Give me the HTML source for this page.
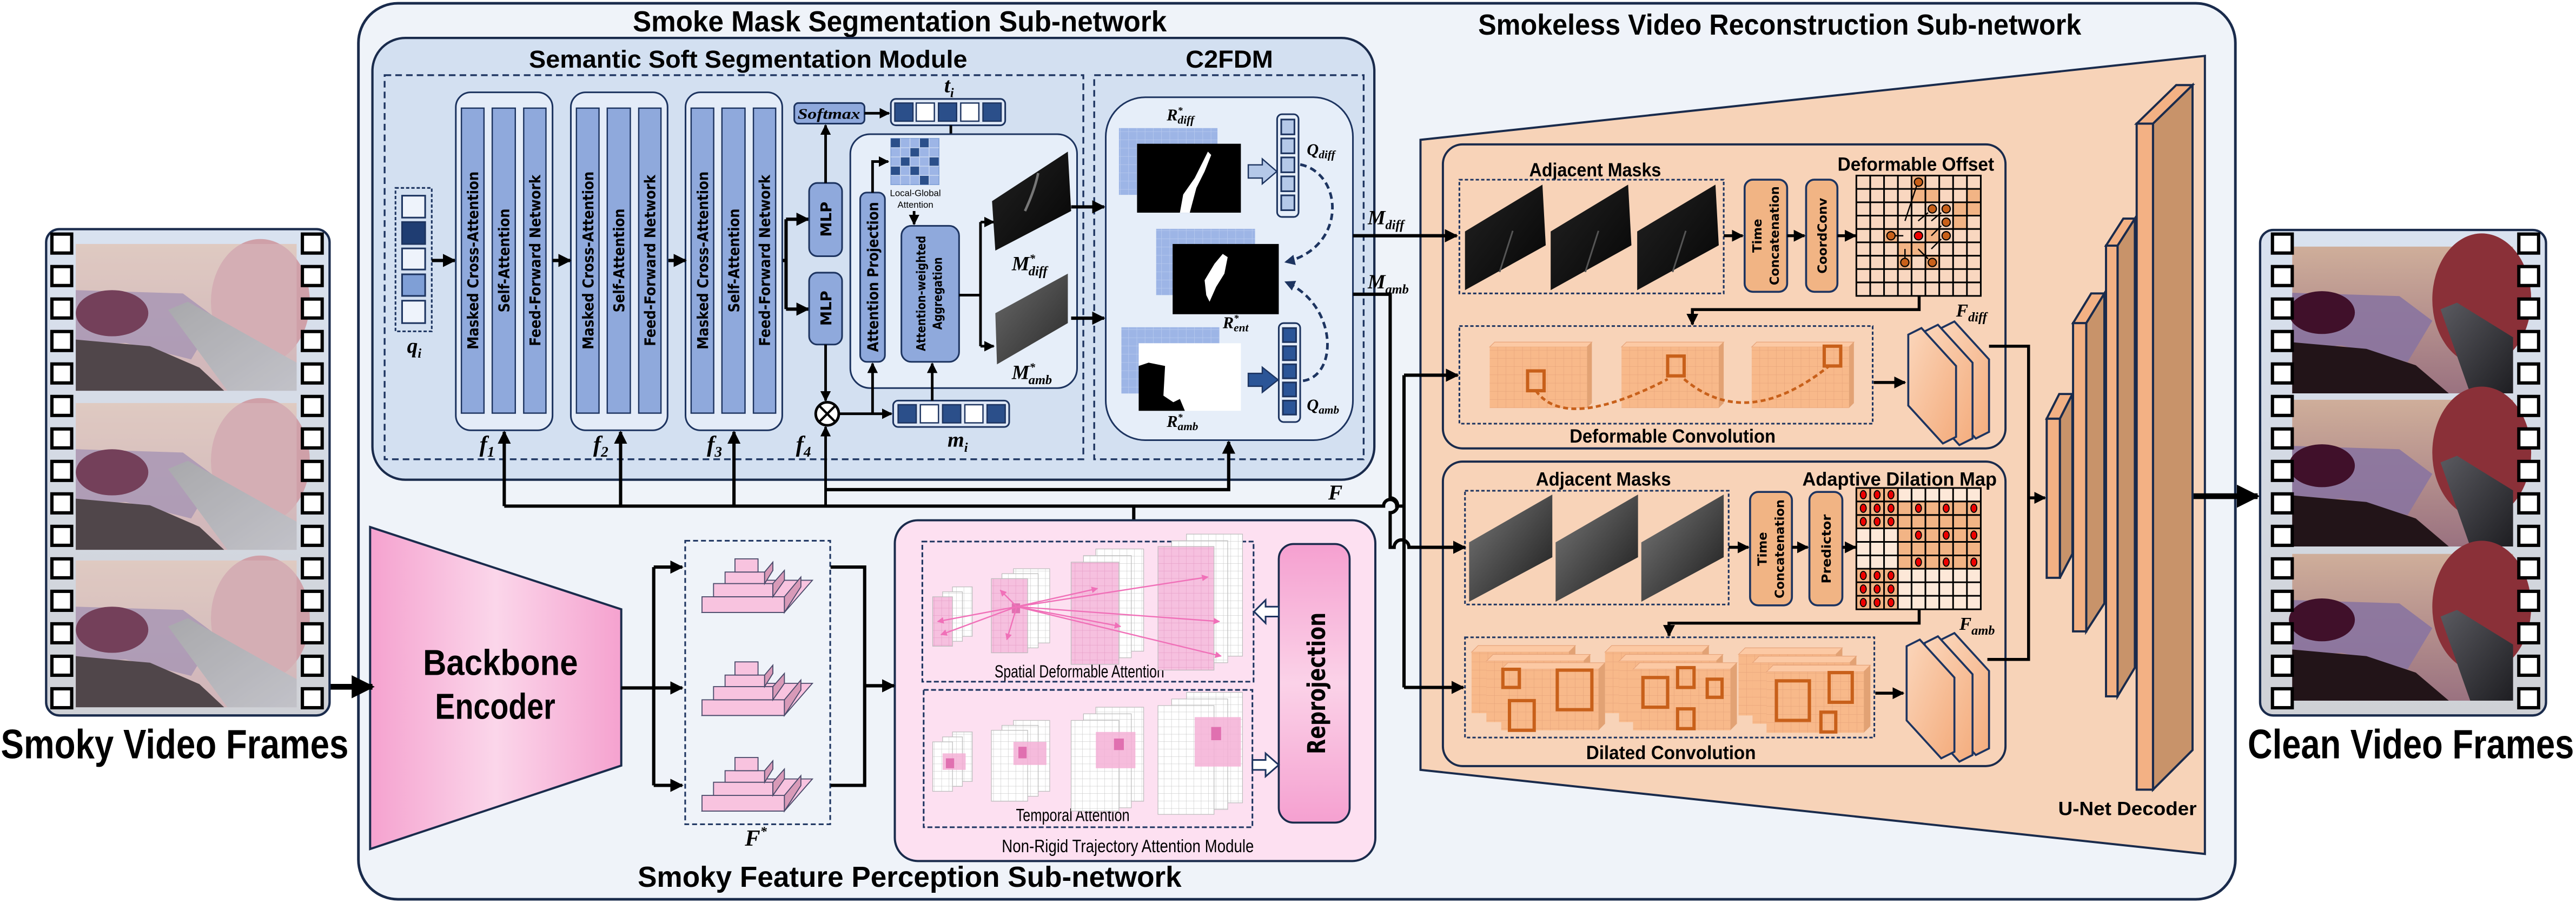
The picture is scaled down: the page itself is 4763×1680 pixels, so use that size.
<!DOCTYPE html>
<html><head><meta charset="utf-8"><style>html,body{margin:0;padding:0;background:#fff}svg{display:block}</style></head><body>
<svg xmlns="http://www.w3.org/2000/svg" xmlns:xlink="http://www.w3.org/1999/xlink" width="4763" height="1680" viewBox="0 0 1563.2 551.4" preserveAspectRatio="none">
<defs>
<linearGradient id="bb" x1="0" x2="1"><stop offset="0" stop-color="#f5a2cf"/><stop offset="0.5" stop-color="#fbd6ea"/><stop offset="1" stop-color="#f5a2cf"/></linearGradient>
<linearGradient id="rp" x1="0" y1="0" x2="0" y2="1"><stop offset="0" stop-color="#f5a0d0"/><stop offset="0.5" stop-color="#fbd2e8"/><stop offset="1" stop-color="#f5a0d0"/></linearGradient>
<linearGradient id="film" x1="0" y1="0" x2="0" y2="1"><stop offset="0" stop-color="#d9e2f0"/><stop offset="1" stop-color="#cfd1d6"/></linearGradient>
<linearGradient id="pt" x1="0" y1="0" x2="0" y2="1"><stop offset="0" stop-color="#dcc2b8"/><stop offset="1" stop-color="#c9a8ae"/></linearGradient>
<linearGradient id="ptc" x1="0" y1="0" x2="0" y2="1"><stop offset="0" stop-color="#cfae9a"/><stop offset="1" stop-color="#9a7280"/></linearGradient>
<linearGradient id="ins" x1="0" y1="0" x2="1" y2="1"><stop offset="0" stop-color="#9a9a9e"/><stop offset="1" stop-color="#b8b8c0"/></linearGradient>
<linearGradient id="insc" x1="0" y1="0" x2="1" y2="1"><stop offset="0" stop-color="#5a5a60"/><stop offset="1" stop-color="#1e1e22"/></linearGradient>
<linearGradient id="gry" x1="0" y1="0" x2="1" y2="1"><stop offset="0" stop-color="#6a6a6a"/><stop offset="1" stop-color="#2a2a2a"/></linearGradient>
<linearGradient id="gry2" x1="0" y1="0" x2="1" y2="1"><stop offset="0" stop-color="#7a7a7a"/><stop offset="1" stop-color="#1a1a1a"/></linearGradient>
<linearGradient id="blk" x1="0" y1="0" x2="1" y2="1"><stop offset="0" stop-color="#222"/><stop offset="1" stop-color="#050505"/></linearGradient>
<linearGradient id="fpl" x1="0" y1="0" x2="1" y2="1"><stop offset="0" stop-color="#fbd6bb"/><stop offset="1" stop-color="#f4ad7e"/></linearGradient>
<pattern id="gb" width="5" height="5" patternUnits="userSpaceOnUse"><rect width="5" height="5" fill="#9db5e6"/><path d="M5 0V5H0" fill="none" stroke="#b9cbef" stroke-width="0.5"/></pattern>
<pattern id="go" width="5" height="5" patternUnits="userSpaceOnUse"><rect width="5" height="5" fill="#f8b98a"/><path d="M5 0V5H0" fill="none" stroke="#e6a37a" stroke-width="0.4"/></pattern>
<pattern id="gw" width="4.5" height="4.5" patternUnits="userSpaceOnUse"><rect width="4.5" height="4.5" fill="#fff"/><path d="M4.5 0V4.5H0" fill="none" stroke="#c8c8c8" stroke-width="0.4"/></pattern>
<pattern id="gp" width="4.5" height="4.5" patternUnits="userSpaceOnUse"><rect width="4.5" height="4.5" fill="#f6c0df"/><path d="M4.5 0V4.5H0" fill="none" stroke="#e59cc6" stroke-width="0.4"/></pattern>
<marker id="ah" viewBox="0 0 10 10" refX="9" refY="5" markerWidth="4" markerHeight="4" orient="auto-start-reverse"><path d="M0 0L10 5L0 10z" fill="#000"/></marker>
<marker id="ahn" viewBox="0 0 10 10" refX="9" refY="5" markerWidth="4" markerHeight="4" orient="auto"><path d="M0 0L10 5L0 10z" fill="#1d3460"/></marker>
<marker id="ahp" viewBox="0 0 10 10" refX="9" refY="5" markerWidth="5" markerHeight="5" orient="auto"><path d="M0 0L10 5L0 10z" fill="#f070b8"/></marker>
<g id="photoS"><rect width="134" height="89" fill="url(#pt)"/>
<ellipse cx="112" cy="35" rx="30" ry="38" fill="#cfa0a8"/>
<polygon points="0,28 65,30 85,45 70,70 30,60 0,62" fill="#9a84a8" opacity="0.85"/>
<ellipse cx="22" cy="42" rx="22" ry="14" fill="#5a1a3a"/>
<polygon points="0,58 45,62 75,75 90,89 0,89" fill="#2e2226"/>
<polygon points="56,40 68,35 134,72 134,89 92,89" fill="url(#ins)"/>
<rect width="134" height="89" fill="#eee" opacity="0.18"/></g>
<g id="photoC"><rect width="134" height="89" fill="url(#ptc)"/>
<ellipse cx="115" cy="32" rx="30" ry="40" fill="#8a3038"/>
<polygon points="0,28 65,30 85,45 70,70 30,60 0,62" fill="#8a74a0" opacity="0.9"/>
<ellipse cx="18" cy="40" rx="20" ry="13" fill="#40102a"/>
<polygon points="0,58 45,62 75,72 95,89 0,89" fill="#221418"/>
<polygon points="90,38 100,34 134,55 134,89 108,89" fill="url(#insc)"/></g>
<g id="holes"><rect x="0" y="0" width="12" height="11.5" fill="#fff" stroke="#000" stroke-width="2"/></g>
<g id="hl"><use href="#holes" x="0" y="0"/><use href="#holes" y="19.7"/><use href="#holes" y="39.4"/><use href="#holes" y="59.1"/><use href="#holes" y="78.8"/><use href="#holes" y="98.5"/><use href="#holes" y="118.2"/><use href="#holes" y="137.9"/><use href="#holes" y="157.6"/><use href="#holes" y="177.3"/><use href="#holes" y="197"/><use href="#holes" y="216.7"/><use href="#holes" y="236.4"/><use href="#holes" y="256.1"/><use href="#holes" y="275.8"/></g>
<g id="cubeO"><path d="M0 4L4 0H63L59 4Z" fill="#fcc9a4" stroke="#e6a37a" stroke-width="0.4"/><path d="M59 4L63 0V37L59 41Z" fill="#e2a274"/><rect x="0" y="4" width="59" height="37" fill="url(#go)"/></g>
<g id="cubeS"><path d="M0 3L3 0H62L59 3Z" fill="#fcc9a4" stroke="#e6a37a" stroke-width="0.4"/><path d="M59 3L62 0V37L59 40Z" fill="#e2a274"/><rect x="0" y="3" width="59" height="37" fill="url(#go)"/></g>
</defs>

<!-- Outer frame -->
<rect x="217.5" y="2" width="1139" height="543.5" rx="24" fill="#eff3f9" stroke="#1a2b4c" stroke-width="1.6"/>
<text x="546" y="19" font-family="Liberation Sans Narrow,Liberation Sans,sans-serif" font-weight="bold" font-size="17.5" text-anchor="middle" textLength="324" lengthAdjust="spacingAndGlyphs">Smoke Mask Segmentation Sub-network</text>
<text x="1080" y="21" font-family="Liberation Sans Narrow,Liberation Sans,sans-serif" font-weight="bold" font-size="17.5" text-anchor="middle" textLength="366" lengthAdjust="spacingAndGlyphs">Smokeless Video Reconstruction Sub-network</text>
<text x="552" y="538" font-family="Liberation Sans Narrow,Liberation Sans,sans-serif" font-weight="bold" font-size="17.5" text-anchor="middle" textLength="330" lengthAdjust="spacingAndGlyphs">Smoky Feature Perception Sub-network</text>

<!-- Smoke Mask segmentation inner -->
<rect x="226" y="23" width="608" height="268" rx="20" fill="#d3e0f1" stroke="#1a2b4c" stroke-width="1.4"/>
<text x="454" y="41" font-family="Liberation Sans Narrow,Liberation Sans,sans-serif" font-weight="bold" font-size="15" text-anchor="middle" textLength="266" lengthAdjust="spacingAndGlyphs">Semantic Soft Segmentation Module</text>
<text x="746" y="41" font-family="Liberation Sans Narrow,Liberation Sans,sans-serif" font-weight="bold" font-size="15" text-anchor="middle" textLength="53" lengthAdjust="spacingAndGlyphs">C2FDM</text>
<rect x="233.4" y="45.6" width="424" height="233" fill="none" stroke="#1d3460" stroke-width="1.1" stroke-dasharray="4,2.5"/>
<rect x="664" y="45.6" width="163.5" height="233" fill="none" stroke="#1d3460" stroke-width="1.1" stroke-dasharray="4,2.5"/>

<!-- q_i -->
<rect x="240" y="114" width="22" height="87" fill="none" stroke="#1d3460" stroke-width="1" stroke-dasharray="2,1.2"/>
<g stroke="#1d3460" stroke-width="1">
<rect x="244" y="118.7" width="14" height="13.3" fill="#eef3fb"/><rect x="244" y="134.7" width="14" height="13.3" fill="#1f3d72"/><rect x="244" y="150.7" width="14" height="12.8" fill="#eef3fb"/><rect x="244" y="166.4" width="14" height="13.1" fill="#7f9fd6"/><rect x="244" y="182.4" width="14" height="13.6" fill="#eef3fb"/></g>
<text x="247" y="214" font-family="Liberation Serif,serif" font-style="italic" font-weight="bold" font-size="13">q<tspan font-size="8" dy="3">i</tspan></text>
<line x1="262" y1="158" x2="276" y2="158" stroke="#000" stroke-width="2" marker-end="url(#ah)"/>

<!-- Transformer blocks -->
<g font-family="DejaVu Sans,sans-serif" font-weight="bold" font-size="9" text-anchor="middle">
<g id="blk1">
<rect x="276.6" y="56" width="58.7" height="205" rx="9" fill="#e4ecf8" stroke="#1d3460" stroke-width="1"/>
<rect x="280" y="65.6" width="13.7" height="185" fill="#8fa9dc" stroke="#1d3460" stroke-width="0.8"/>
<rect x="298.7" y="65.6" width="14" height="185" fill="#8fa9dc" stroke="#1d3460" stroke-width="0.8"/>
<rect x="317.8" y="65.6" width="13.5" height="185" fill="#8fa9dc" stroke="#1d3460" stroke-width="0.8"/>
<text transform="translate(290.2,158) rotate(-90)" textLength="108" lengthAdjust="spacingAndGlyphs">Masked Cross-Attention</text>
<text transform="translate(309,158) rotate(-90)" textLength="63" lengthAdjust="spacingAndGlyphs">Self-Attention</text>
<text transform="translate(327.8,158) rotate(-90)" textLength="104" lengthAdjust="spacingAndGlyphs">Feed-Forward Network</text>
</g>
<use href="#blk1" x="69.8"/>
<use href="#blk1" x="139.4"/>
</g>
<g stroke="#000" stroke-width="2" fill="none">
<line x1="335.3" y1="158" x2="346" y2="158" marker-end="url(#ah)"/>
<line x1="405.6" y1="158" x2="416" y2="158" marker-end="url(#ah)"/>
<path d="M475 158H477M477 133V187.5"/>
<line x1="477" y1="133" x2="490.5" y2="133" marker-end="url(#ah)"/>
<line x1="477" y1="187.5" x2="490.5" y2="187.5" marker-end="url(#ah)"/>
</g>
<g font-family="Liberation Serif,serif" font-style="italic" font-weight="bold" font-size="14">
<text x="291" y="274">f<tspan font-size="9" dy="3">1</tspan></text>
<text x="360" y="274">f<tspan font-size="9" dy="3">2</tspan></text>
<text x="429" y="274">f<tspan font-size="9" dy="3">3</tspan></text>
<text x="483" y="274">f<tspan font-size="9" dy="3">4</tspan></text>
</g>

<!-- MLPs, softmax, t_i -->
<g stroke="#1d3460" stroke-width="1" fill="#8fa9dc">
<rect x="491" y="111" width="20" height="44.4" rx="5"/>
<rect x="491" y="165.4" width="20" height="43.6" rx="5"/>
<rect x="482" y="62.5" width="42.6" height="12.5" rx="2.5"/>
<rect x="540.6" y="60" width="69.4" height="16" rx="3" fill="#dfe8f6"/>
</g>
<g font-family="DejaVu Sans,sans-serif" font-weight="bold" font-size="9" text-anchor="middle">
<text transform="translate(504.5,133) rotate(-90)">MLP</text>
<text transform="translate(504.5,187) rotate(-90)">MLP</text>
</g>
<text x="503" y="72" font-family="Liberation Serif,serif" font-style="italic" font-weight="bold" font-size="9" text-anchor="middle" textLength="38" lengthAdjust="spacingAndGlyphs">Softmax</text>
<g stroke="#1d3460" stroke-width="0.8">
<rect x="543" y="62.5" width="11" height="11" fill="#2b4f8a"/><rect x="556" y="62.5" width="11" height="11" fill="#fff"/><rect x="569.5" y="62.5" width="11" height="11" fill="#2b4f8a"/><rect x="583" y="62.5" width="11" height="11" fill="#fff"/><rect x="596.5" y="62.5" width="11" height="11" fill="#2b4f8a"/></g>
<text x="573" y="56" font-family="Liberation Serif,serif" font-style="italic" font-weight="bold" font-size="13">t<tspan font-size="8" dy="3">i</tspan></text>
<g stroke="#000" stroke-width="1.6" fill="none">
<line x1="501" y1="111" x2="501" y2="76" marker-end="url(#ah)"/>
<line x1="524.6" y1="68.7" x2="539.5" y2="68.7" marker-end="url(#ah)"/>
<line x1="577" y1="76" x2="577" y2="136" marker-end="url(#ah)"/>
<line x1="501" y1="209" x2="501" y2="243" marker-end="url(#ah)"/>
<line x1="501" y1="307" x2="501" y2="259" marker-end="url(#ah)"/>
</g>

<!-- attention inner box -->
<rect x="516" y="81.4" width="137.6" height="154" rx="12" fill="#e6eef9" stroke="#1d3460" stroke-width="1"/>
<rect x="540.6" y="84" width="29.2" height="28" fill="#9db5e6" stroke="#7f9fd6" stroke-width="0.5"/>
<g fill="#2b4f8a"><rect x="540.6" y="84" width="5.8" height="5.6"/><rect x="552.3" y="89.6" width="5.8" height="5.6"/><rect x="558" y="84" width="5.8" height="5.6"/><rect x="546.4" y="95.2" width="5.8" height="5.6"/><rect x="563.8" y="95.2" width="5.8" height="5.6"/><rect x="540.6" y="100.8" width="5.8" height="5.6"/><rect x="558" y="106.4" width="5.8" height="5.6"/><rect x="552.3" y="100.8" width="5.8" height="5.6"/></g>
<path d="M540.6 89.6H569.8M540.6 95.2H569.8M540.6 100.8H569.8M540.6 106.4H569.8M546.4 84V112M552.2 84V112M558 84V112M563.8 84V112" stroke="#c8d6f0" stroke-width="0.5"/>
<text x="555.5" y="119" font-family="Liberation Sans Narrow,sans-serif" font-size="5.5" text-anchor="middle">Local-Global</text>
<text x="555.5" y="126" font-family="Liberation Sans Narrow,sans-serif" font-size="5.5" text-anchor="middle">Attention</text>
<rect x="522" y="116.8" width="15" height="102.7" rx="4" fill="#8fa9dc" stroke="#1d3460" stroke-width="1"/>
<rect x="547" y="137" width="35" height="82.5" rx="6" fill="#8fa9dc" stroke="#1d3460" stroke-width="1"/>
<g font-family="DejaVu Sans,sans-serif" font-weight="bold" font-size="9" text-anchor="middle">
<text transform="translate(532.8,168) rotate(-90)" textLength="91" lengthAdjust="spacingAndGlyphs">Attention Projection</text>
<text transform="translate(561.5,178) rotate(-90)" font-size="7.5" textLength="70" lengthAdjust="spacingAndGlyphs">Attention-weighted</text>
<text transform="translate(571.5,178) rotate(-90)" font-size="7.5" textLength="44" lengthAdjust="spacingAndGlyphs">Aggregation</text>
</g>
<g stroke="#000" stroke-width="1.6" fill="none">
<path d="M529.5 116.8V98H539" marker-end="url(#ah)"/>
<line x1="554.7" y1="128" x2="554.7" y2="136" marker-end="url(#ah)"/>
<path d="M582 179H595M595 134.7V210"/>
<line x1="595" y1="134.7" x2="603" y2="134.7" marker-end="url(#ah)"/>
<line x1="595" y1="210" x2="603" y2="210" marker-end="url(#ah)"/>
</g>
<polygon points="602,122 648,92 650,128 604,152" fill="url(#blk)"/>
<path d="M622 128Q628 115 630 105" stroke="#777" stroke-width="1.5" fill="none"/>
<polygon points="604,190 648,166 648,196 605,221" fill="url(#gry)"/>
<text x="614" y="164" font-family="Liberation Serif,serif" font-style="italic" font-weight="bold" font-size="12">M<tspan font-size="7" dy="-5">*</tspan><tspan font-size="8" dx="-4" dy="8">diff</tspan></text>
<text x="614" y="230" font-family="Liberation Serif,serif" font-style="italic" font-weight="bold" font-size="12">M<tspan font-size="7" dy="-5">*</tspan><tspan font-size="8" dx="-4" dy="8">amb</tspan></text>
<g stroke="#000" stroke-width="2" fill="none">
<line x1="650" y1="125.5" x2="670" y2="125.5" marker-end="url(#ah)"/>
<line x1="650" y1="193" x2="670" y2="193" marker-end="url(#ah)"/>
</g>
<!-- multiply + m_i -->
<circle cx="502" cy="251" r="7" fill="#fff" stroke="#000" stroke-width="1.6"/>
<path d="M497.5 246.5L506.5 255.5M506.5 246.5L497.5 255.5" stroke="#000" stroke-width="1.4"/>
<rect x="542" y="243" width="70.4" height="16" rx="3" fill="#dfe8f6" stroke="#1d3460" stroke-width="1"/>
<g stroke="#1d3460" stroke-width="0.8"><rect x="545" y="245.5" width="11" height="11" fill="#2b4f8a"/><rect x="558.5" y="245.5" width="11" height="11" fill="#fff"/><rect x="572" y="245.5" width="11" height="11" fill="#2b4f8a"/><rect x="585.5" y="245.5" width="11" height="11" fill="#fff"/><rect x="599" y="245.5" width="11" height="11" fill="#2b4f8a"/></g>
<text x="575" y="271" font-family="Liberation Serif,serif" font-style="italic" font-weight="bold" font-size="13">m<tspan font-size="8" dy="3">i</tspan></text>
<g stroke="#000" stroke-width="1.6" fill="none">
<line x1="509" y1="251" x2="541" y2="251" marker-end="url(#ah)"/>
<line x1="529.5" y1="251" x2="529.5" y2="220.5" marker-end="url(#ah)"/>
<line x1="565.7" y1="243" x2="565.7" y2="220.5" marker-end="url(#ah)"/>
</g>

<!-- C2FDM inner -->
<rect x="671" y="59" width="150" height="208" rx="24" fill="#e6eef9" stroke="#1d3460" stroke-width="1"/>
<rect x="679" y="77.7" width="59.8" height="40.5" fill="url(#gb)"/>
<rect x="690" y="87.2" width="63" height="41.8" fill="#000"/>
<path d="M716 129L718 118L725 108L730 98L733 92L735 94L731 104L726 114L722 129Z" fill="#fff"/>
<rect x="701.6" y="138.8" width="60" height="40.2" fill="url(#gb)"/>
<rect x="711.6" y="148" width="64.4" height="42.6" fill="#000"/>
<path d="M732 179L731 170L737 160L742 154L745 156L743 166L738 174L734 183Z" fill="#fff"/>
<rect x="680.5" y="198.5" width="59.5" height="40.2" fill="url(#gb)"/>
<rect x="691" y="208.2" width="62" height="41" fill="#fff"/>
<path d="M691 222L697 220L707 222L706 240L712 244L716 242L719 249.2H691Z" fill="#000"/>
<polygon points="757.5,100 766,100 766,96.4 774.8,104 766,111.5 766,108 757.5,108" fill="#b4c8e8" stroke="#1d3460" stroke-width="0.8"/>
<polygon points="757.5,226.5 766,226.5 766,222.8 775.6,230.4 766,238 766,234.3 757.5,234.3" fill="#2b5597" stroke="#1d3460" stroke-width="0.8"/>
<rect x="775" y="69.3" width="13" height="62.3" rx="3" fill="#e6eef9" stroke="#1d3460" stroke-width="1"/>
<g fill="#b4c8e8" stroke="#1d3460" stroke-width="1"><rect x="777.5" y="72.5" width="8" height="9"/><rect x="777.5" y="84" width="8" height="9"/><rect x="777.5" y="95.5" width="8" height="9"/><rect x="777.5" y="107" width="8" height="9"/><rect x="777.5" y="118.5" width="8" height="9"/></g>
<rect x="776" y="196" width="13" height="60" rx="3" fill="#e6eef9" stroke="#1d3460" stroke-width="1"/>
<g fill="#2b5597" stroke="#1d3460" stroke-width="1"><rect x="778.5" y="199" width="8" height="8.5"/><rect x="778.5" y="210" width="8" height="8.5"/><rect x="778.5" y="221" width="8" height="8.5"/><rect x="778.5" y="232" width="8" height="8.5"/><rect x="778.5" y="243" width="8" height="8.5"/></g>
<path d="M789 99.8C815 105 818 150 780 159" fill="none" stroke="#1d3460" stroke-width="1.6" stroke-dasharray="4,2.5" marker-end="url(#ahn)"/>
<path d="M790.7 231C812 228 812 185 780 171" fill="none" stroke="#1d3460" stroke-width="1.6" stroke-dasharray="4,2.5" marker-end="url(#ahn)"/>
<g font-family="Liberation Serif,serif" font-style="italic" font-weight="bold">
<text x="708" y="73" font-size="10">R<tspan font-size="6" dy="-4">*</tspan><tspan font-size="7" dx="-3" dy="6">diff</tspan></text>
<text x="793" y="94" font-size="10">Q<tspan font-size="7" dy="2">diff</tspan></text>
<text x="742" y="199" font-size="10">R<tspan font-size="6" dy="-4">*</tspan><tspan font-size="7" dx="-3" dy="6">ent</tspan></text>
<text x="708" y="259" font-size="10">R<tspan font-size="6" dy="-4">*</tspan><tspan font-size="7" dx="-3" dy="6">amb</tspan></text>
<text x="793" y="249" font-size="10">Q<tspan font-size="7" dy="2">amb</tspan></text>
<text x="830" y="136" font-size="12">M<tspan font-size="8" dy="3">diff</tspan></text>
<text x="830" y="175" font-size="12">M<tspan font-size="8" dy="3">amb</tspan></text>
<text x="806" y="303" font-size="13">F</text>
<text x="452" y="513" font-size="14">F<tspan font-size="8" dy="-6">*</tspan></text>
</g>

<!-- Peach trapezoid decoder -->
<polygon points="862,84.8 1338,33.9 1338,518 862,467" fill="#f7d3b8" stroke="#1a2b4c" stroke-width="1.3"/>
<rect x="875.6" y="87.6" width="341.4" height="184.4" rx="12" fill="#f8d3b8" stroke="#1a2b4c" stroke-width="1.3"/>
<rect x="875.6" y="280" width="341.4" height="184.7" rx="12" fill="#f8d3b8" stroke="#1a2b4c" stroke-width="1.3"/>
<g font-family="Liberation Sans Narrow,Liberation Sans,sans-serif" font-weight="bold" font-size="11.5" text-anchor="middle">
<text x="968" y="107" textLength="80" lengthAdjust="spacingAndGlyphs">Adjacent Masks</text>
<text x="1162.6" y="103.5" textLength="95" lengthAdjust="spacingAndGlyphs">Deformable Offset</text>
<text x="1015" y="268.5" textLength="125" lengthAdjust="spacingAndGlyphs">Deformable Convolution</text>
<text x="973" y="294.5" textLength="82" lengthAdjust="spacingAndGlyphs">Adjacent Masks</text>
<text x="1152.7" y="294.5" textLength="118" lengthAdjust="spacingAndGlyphs">Adaptive Dilation Map</text>
<text x="1014" y="460.5" textLength="103" lengthAdjust="spacingAndGlyphs">Dilated Convolution</text>
<text x="1291" y="494.5" textLength="84" lengthAdjust="spacingAndGlyphs">U-Net Decoder</text>
</g>
<!-- deformable row -->
<rect x="885.6" y="109" width="160.4" height="69" fill="none" stroke="#1d3460" stroke-width="1" stroke-dasharray="2,1.3"/>
<polygon points="889,140.4 936,112 938,148.8 889,176" fill="url(#blk)"/>
<polygon points="941,140.4 988,112 990,148.8 941,176" fill="url(#blk)"/>
<polygon points="993.5,140.4 1041,112 1043,148.8 993.5,176" fill="url(#blk)"/>
<g stroke="#555" stroke-width="1" fill="none"><path d="M910 165L918 140"/><path d="M962 165L970 140"/><path d="M1015 165L1023 140"/></g>
<rect x="1058.7" y="109" width="25.8" height="68" rx="5" fill="#f1b484" stroke="#1d3460" stroke-width="1.2"/>
<rect x="1096" y="109" width="19" height="68" rx="5" fill="#f1b484" stroke="#1d3460" stroke-width="1.2"/>
<!-- dilation row -->
<rect x="889" y="297.7" width="160" height="69" fill="none" stroke="#1d3460" stroke-width="1" stroke-dasharray="2,1.3"/>
<polygon points="891.5,329 942,300 942,338 891.5,365" fill="url(#gry2)"/>
<polygon points="944,329 994,300 994,338 944,365" fill="url(#gry2)"/>
<polygon points="996,329 1046,300 1046,338 996,365" fill="url(#gry2)"/>
<rect x="1062" y="298.4" width="25.4" height="68.8" rx="5" fill="#f1b484" stroke="#1d3460" stroke-width="1.2"/>
<rect x="1098" y="298.4" width="20" height="68.8" rx="5" fill="#f1b484" stroke="#1d3460" stroke-width="1.2"/>
<g font-family="DejaVu Sans,sans-serif" font-weight="bold" font-size="7.5" text-anchor="middle">
<text transform="translate(1069,143) rotate(-90)">Time</text>
<text transform="translate(1079.5,143) rotate(-90)" textLength="60" lengthAdjust="spacingAndGlyphs">Concatenation</text>
<text transform="translate(1108.5,143) rotate(-90)" textLength="46" lengthAdjust="spacingAndGlyphs">CoordConv</text>
<text transform="translate(1072,333) rotate(-90)">Time</text>
<text transform="translate(1082.5,333) rotate(-90)" textLength="60" lengthAdjust="spacingAndGlyphs">Concatenation</text>
<text transform="translate(1111,333) rotate(-90)" textLength="42" lengthAdjust="spacingAndGlyphs">Predictor</text>
</g>
<g stroke="#000" stroke-width="1.8" fill="none">
<line x1="1046" y1="143" x2="1057.5" y2="143" marker-end="url(#ah)"/>
<line x1="1084.5" y1="143" x2="1095" y2="143" marker-end="url(#ah)"/>
<line x1="1115" y1="143" x2="1126" y2="143" marker-end="url(#ah)"/>
<line x1="1049" y1="332" x2="1061" y2="332" marker-end="url(#ah)"/>
<line x1="1087.4" y1="332" x2="1097" y2="332" marker-end="url(#ah)"/>
<line x1="1118" y1="332" x2="1126" y2="332" marker-end="url(#ah)"/>
</g>
<!-- Deformable offset grid -->
<rect x="1126.5" y="106.5" width="75.5" height="73" fill="#f9d7c0"/>
<g fill="#f2b485"><rect x="1160" y="106.5" width="8.4" height="8.1"/><rect x="1160" y="114.6" width="8.4" height="8.1"/><rect x="1168.4" y="114.6" width="8.4" height="8.1"/><rect x="1193.6" y="114.6" width="8.4" height="8.1"/><rect x="1185.2" y="122.7" width="16.8" height="8.1"/><rect x="1185.2" y="130.8" width="8.4" height="8.1"/><rect x="1143.3" y="138.9" width="8.4" height="8.1"/><rect x="1168.4" y="138.9" width="8.4" height="8.1"/><rect x="1151.7" y="147" width="16.8" height="8.1"/><rect x="1151.7" y="155.1" width="8.4" height="8.1"/><rect x="1168.4" y="155.1" width="8.4" height="8.1"/></g>
<path d="M1126.5 106.5h75.5v73h-75.5zM1134.9 106.5v73M1143.3 106.5v73M1151.7 106.5v73M1160 106.5v73M1168.4 106.5v73M1176.8 106.5v73M1185.2 106.5v73M1193.6 106.5v73M1126.5 114.6h75.5M1126.5 122.7h75.5M1126.5 130.8h75.5M1126.5 138.9h75.5M1126.5 147h75.5M1126.5 155.1h75.5M1126.5 163.2h75.5M1126.5 171.3h75.5" fill="none" stroke="#000" stroke-width="1"/>
<g fill="#c8601a" stroke="#000" stroke-width="0.7"><circle cx="1164.2" cy="110.5" r="2.5"/><circle cx="1172.6" cy="126.7" r="2.5"/><circle cx="1181" cy="126.7" r="2.5"/><circle cx="1181" cy="134.8" r="2.5"/><circle cx="1181" cy="143" r="2.5"/><circle cx="1147.5" cy="143" r="2.5"/><circle cx="1155.9" cy="159.2" r="2.5"/><circle cx="1172.6" cy="159.2" r="2.5"/></g>
<circle cx="1164.2" cy="143" r="2.5" fill="#e00" stroke="#000" stroke-width="0.7"/>
<g stroke="#000" stroke-width="0.8" fill="none"><path d="M1156 134L1163 113"/><path d="M1164 134L1170 129"/><path d="M1172 134L1178 129"/><path d="M1172 143L1178 137"/><path d="M1172 151L1178 145"/><path d="M1155 143L1150 143"/><path d="M1156 151L1156 157"/><path d="M1164 151L1170 157"/></g>
<!-- Dilation grid -->
<rect x="1126.5" y="296" width="75.5" height="73.6" fill="#fde8d8"/>
<g fill="#f2b485"><rect x="1126.5" y="296" width="25.2" height="24.5"/><rect x="1126.5" y="345" width="25.2" height="24.6"/><rect x="1151.7" y="304.2" width="50.3" height="40.8"/></g>
<path d="M1126.5 296h75.5v73.6h-75.5zM1134.9 296v73.6M1143.3 296v73.6M1151.7 296v73.6M1160 296v73.6M1168.4 296v73.6M1176.8 296v73.6M1185.2 296v73.6M1193.6 296v73.6M1126.5 304.2h75.5M1126.5 312.4h75.5M1126.5 320.5h75.5M1126.5 328.7h75.5M1126.5 336.9h75.5M1126.5 345h75.5M1126.5 353.2h75.5M1126.5 361.4h75.5" fill="none" stroke="#000" stroke-width="1"/>
<g fill="#e00" stroke="#000" stroke-width="0.6">
<ellipse cx="1130.7" cy="300.1" rx="1.8" ry="2.5"/><ellipse cx="1139.1" cy="300.1" rx="1.8" ry="2.5"/><ellipse cx="1147.5" cy="300.1" rx="1.8" ry="2.5"/>
<ellipse cx="1130.7" cy="308.3" rx="1.8" ry="2.5"/><ellipse cx="1139.1" cy="308.3" rx="1.8" ry="2.5"/><ellipse cx="1147.5" cy="308.3" rx="1.8" ry="2.5"/>
<ellipse cx="1130.7" cy="316.4" rx="1.8" ry="2.5"/><ellipse cx="1139.1" cy="316.4" rx="1.8" ry="2.5"/><ellipse cx="1147.5" cy="316.4" rx="1.8" ry="2.5"/>
<ellipse cx="1164.2" cy="308.3" rx="1.8" ry="2.5"/><ellipse cx="1181" cy="308.3" rx="1.8" ry="2.5"/><ellipse cx="1197.8" cy="308.3" rx="1.8" ry="2.5"/>
<ellipse cx="1164.2" cy="324.6" rx="1.8" ry="2.5"/><ellipse cx="1181" cy="324.6" rx="1.8" ry="2.5"/><ellipse cx="1197.8" cy="324.6" rx="1.8" ry="2.5"/>
<ellipse cx="1164.2" cy="341" rx="1.8" ry="2.5"/><ellipse cx="1181" cy="341" rx="1.8" ry="2.5"/><ellipse cx="1197.8" cy="341" rx="1.8" ry="2.5"/>
<ellipse cx="1130.7" cy="349.1" rx="1.8" ry="2.5"/><ellipse cx="1139.1" cy="349.1" rx="1.8" ry="2.5"/><ellipse cx="1147.5" cy="349.1" rx="1.8" ry="2.5"/>
<ellipse cx="1130.7" cy="357.3" rx="1.8" ry="2.5"/><ellipse cx="1139.1" cy="357.3" rx="1.8" ry="2.5"/><ellipse cx="1147.5" cy="357.3" rx="1.8" ry="2.5"/>
<ellipse cx="1130.7" cy="365.5" rx="1.8" ry="2.5"/><ellipse cx="1139.1" cy="365.5" rx="1.8" ry="2.5"/><ellipse cx="1147.5" cy="365.5" rx="1.8" ry="2.5"/>
</g>
<g stroke="#000" stroke-width="1.8" fill="none">
<path d="M1164.6 179.5V187.8H1027V196.8" marker-end="url(#ah)"/>
<path d="M1164.6 369.6V378H1012.8V385.6" marker-end="url(#ah)"/>
</g>
<!-- deformable conv dashed -->
<rect x="885.6" y="197.8" width="250.8" height="59.2" fill="none" stroke="#1d3460" stroke-width="1" stroke-dasharray="2,1.3"/>
<use href="#cubeS" x="904" y="207.5"/>
<use href="#cubeS" x="984" y="207.5"/>
<use href="#cubeS" x="1063" y="207.5"/>
<g fill="none" stroke="#c8601a" stroke-width="2"><rect x="927" y="225" width="10" height="12"/><rect x="1012" y="216" width="10" height="12"/><rect x="1107" y="210" width="10" height="12"/></g>
<path d="M932 237Q950 262 1012 230M1022 230Q1060 262 1110 222" fill="none" stroke="#c8601a" stroke-width="1.6" stroke-dasharray="3,2"/>
<!-- dilated conv dashed -->
<rect x="889" y="386.6" width="248.4" height="60.8" fill="none" stroke="#1d3460" stroke-width="1" stroke-dasharray="2,1.3"/>
<use href="#cubeO" x="893" y="391.6"/><use href="#cubeO" x="902" y="397"/><use href="#cubeO" x="911" y="402"/>
<use href="#cubeO" x="974" y="391.6"/><use href="#cubeO" x="982.5" y="397"/><use href="#cubeO" x="991" y="402"/>
<use href="#cubeO" x="1055" y="393"/><use href="#cubeO" x="1063.5" y="398"/><use href="#cubeO" x="1072" y="403.5"/>
<g fill="none" stroke="#c8601a" stroke-width="2"><rect x="912" y="406" width="10" height="11"/><rect x="945" y="406.5" width="21" height="24"/><rect x="916" y="425" width="15" height="18"/>
<rect x="997" y="411" width="15" height="18"/><rect x="1018" y="405" width="10" height="12"/><rect x="1036" y="412" width="9" height="11"/><rect x="1018" y="430" width="10" height="12"/>
<rect x="1078" y="413" width="20" height="24"/><rect x="1110" y="408" width="14" height="18"/><rect x="1105" y="432" width="9" height="12"/></g>
<!-- F planes -->
<g stroke="#1d3460" stroke-width="1.2">
<polygon points="1178,199 1186,195 1207,218 1207,262 1199,266 1178,243" fill="url(#fpl)"/>
<polygon points="1168,201 1176,197 1197,220 1197,266 1189,270 1168,247" fill="url(#fpl)"/>
<polygon points="1158,203 1166,199 1187,222 1187,265 1179,269 1158,246" fill="url(#fpl)"/>
<polygon points="1178,388 1186,384 1207,407 1207,454 1199,458 1178,435" fill="url(#fpl)"/>
<polygon points="1168,390 1176,386 1197,409 1197,458 1189,462 1168,439" fill="url(#fpl)"/>
<polygon points="1157,392 1165,388 1186,411 1186,456 1178,460 1157,437" fill="url(#fpl)"/>
</g>
<g font-family="Liberation Serif,serif" font-style="italic" font-weight="bold" font-size="11">
<text x="1187" y="192">F<tspan font-size="8" dy="3">diff</tspan></text>
<text x="1189" y="382">F<tspan font-size="8" dy="3">amb</tspan></text>
</g>
<g stroke="#000" stroke-width="1.8" fill="none">
<line x1="1137" y1="232" x2="1156" y2="232" marker-end="url(#ah)"/>
<line x1="1138" y1="420.5" x2="1155" y2="420.5" marker-end="url(#ah)"/>
<path d="M1207 210H1231V400H1206"/>
<line x1="1231" y1="302" x2="1241" y2="302" marker-end="url(#ah)"/>
<line x1="1330" y1="301" x2="1370" y2="301" stroke-width="3.5" marker-end="url(#ah)"/>
</g>
<!-- U-Net blocks -->
<g stroke="#1a2b4c" stroke-width="1.3">
<polygon points="1250,254 1257.6,239 1257.6,336 1250,350.5" fill="#c8936a"/>
<polygon points="1242,254 1250,254 1257.6,239 1249.6,239" fill="#f3b184"/>
<rect x="1242" y="254" width="8" height="96.5" fill="#f3b184"/>
<polygon points="1266,196 1277,178 1277,366 1266,383" fill="#c8936a"/>
<polygon points="1258,196 1266,196 1277,178 1269,178" fill="#f3b184"/>
<rect x="1258" y="196" width="8" height="187" fill="#f3b184"/>
<polygon points="1285,149 1295.5,132.6 1295.5,405 1285,422.4" fill="#c8936a"/>
<polygon points="1278,149 1285,149 1295.5,132.6 1288.5,132.6" fill="#f3b184"/>
<rect x="1278" y="149" width="7" height="273.4" fill="#f3b184"/>
<polygon points="1306.5,75 1330.5,51.6 1330.5,455 1306.5,479" fill="#c8936a"/>
<polygon points="1296.6,75 1306.5,75 1330.5,51.6 1320.6,51.6" fill="#f3b184"/>
<rect x="1296.6" y="75" width="9.9" height="404" fill="#f3b184"/>
</g>

<!-- Connectors -->
<g stroke="#000" stroke-width="2" fill="none">
<line x1="821" y1="143" x2="884" y2="143" marker-end="url(#ah)"/>
<path d="M821 178.5H843.6V302A4 4 0 0 1 843.6 311V332H846A4 4 0 0 1 855 332H889" marker-end="url(#ah)"/>
<path d="M306 307H839.6A4 4 0 0 1 847.6 307H852"/>
<path d="M852 227.6V417"/>
<line x1="852" y1="227.6" x2="884.6" y2="227.6" marker-end="url(#ah)"/>
<line x1="852" y1="417" x2="888" y2="417" marker-end="url(#ah)"/>
<line x1="306" y1="307" x2="306" y2="262" marker-end="url(#ah)"/>
<line x1="376.6" y1="307" x2="376.6" y2="262" marker-end="url(#ah)"/>
<line x1="445.4" y1="307" x2="445.4" y2="262" marker-end="url(#ah)"/>
<path d="M501 297H745.6V268" marker-end="url(#ah)"/>
<line x1="688" y1="307" x2="688" y2="315.5"/>
</g>

<!-- Non-rigid module -->
<rect x="543" y="315.6" width="291.6" height="206.7" rx="14" fill="#fde0f1" stroke="#1a2b4c" stroke-width="1.3"/>
<rect x="776" y="330" width="43" height="169" rx="9" fill="url(#rp)" stroke="#1a2b4c" stroke-width="1.2"/>
<text transform="translate(804,414.5) rotate(-90)" font-family="DejaVu Sans,sans-serif" font-weight="bold" font-size="15" text-anchor="middle" textLength="86" lengthAdjust="spacingAndGlyphs">Reprojection</text>
<rect x="559.7" y="328.5" width="201" height="85" fill="none" stroke="#1d3460" stroke-width="1" stroke-dasharray="3,1.5"/>
<rect x="560.5" y="418.5" width="199.5" height="83.3" fill="none" stroke="#1d3460" stroke-width="1" stroke-dasharray="3,1.5"/>
<g font-family="Liberation Sans Narrow,Liberation Sans,sans-serif" font-size="10.5" text-anchor="middle">
<text x="655" y="411" textLength="103" lengthAdjust="spacingAndGlyphs">Spatial Deformable Attention</text>
<text x="651" y="498" textLength="69" lengthAdjust="spacingAndGlyphs">Temporal Attention</text>
<text x="684.4" y="517" font-size="11" textLength="153" lengthAdjust="spacingAndGlyphs">Non-Rigid Trajectory Attention Module</text>
</g>
<g stroke="#bbb" stroke-width="0.4">
<rect x="578" y="356" width="12" height="30" fill="url(#gw)"/><rect x="572" y="359" width="12" height="30" fill="url(#gw)"/><rect x="566" y="362" width="12" height="30" fill="url(#gp)"/>
<rect x="615" y="345" width="22" height="45" fill="url(#gw)"/><rect x="608" y="348" width="22" height="45" fill="url(#gw)"/><rect x="601.6" y="351" width="22" height="45" fill="url(#gp)"/>
<rect x="665" y="333" width="29" height="62" fill="url(#gw)"/><rect x="657.5" y="337" width="29" height="62" fill="url(#gw)"/><rect x="650" y="341" width="29" height="62" fill="url(#gp)"/>
<rect x="720" y="324" width="34" height="74" fill="url(#gw)"/><rect x="711" y="328" width="34" height="74" fill="url(#gw)"/><rect x="702.7" y="331.5" width="34" height="75" fill="url(#gp)"/>
</g>
<rect x="614" y="366" width="5" height="6" fill="#e070b0"/>
<g stroke="#f070b8" stroke-width="0.8" marker-end="url(#ahp)">
<line x1="617" y1="368" x2="569" y2="377"/><line x1="617" y1="368" x2="571" y2="385"/><line x1="617" y1="368" x2="607" y2="358"/><line x1="617" y1="368" x2="611" y2="388"/><line x1="617" y1="368" x2="666" y2="357"/><line x1="617" y1="368" x2="680" y2="380"/><line x1="617" y1="368" x2="733" y2="350"/><line x1="617" y1="368" x2="740" y2="377"/><line x1="617" y1="368" x2="741" y2="398"/>
</g>
<g stroke="#bbb" stroke-width="0.4">
<rect x="578" y="444" width="12" height="30" fill="url(#gw)"/><rect x="572" y="447" width="12" height="30" fill="url(#gw)"/><rect x="566" y="450" width="12" height="30" fill="url(#gw)"/>
<rect x="615" y="437" width="22" height="43" fill="url(#gw)"/><rect x="608" y="440" width="22" height="43" fill="url(#gw)"/><rect x="601.6" y="443" width="22" height="43" fill="url(#gw)"/>
<rect x="665" y="429" width="29" height="57" fill="url(#gw)"/><rect x="657.5" y="433" width="29" height="57" fill="url(#gw)"/><rect x="650" y="437" width="29" height="55" fill="url(#gw)"/>
<rect x="720" y="420" width="34" height="67" fill="url(#gw)"/><rect x="711" y="424" width="34" height="67" fill="url(#gw)"/><rect x="702.7" y="428" width="34" height="66" fill="url(#gw)"/>
</g>
<g fill="#f4b0d6" opacity="0.85"><rect x="572" y="457" width="14" height="10"/><rect x="615" y="450" width="20" height="14"/><rect x="665" y="444" width="24" height="22"/><rect x="725" y="435" width="28" height="30"/></g>
<g fill="#e070b0"><rect x="574" y="460" width="5" height="6"/><rect x="618" y="453" width="5" height="7"/><rect x="676" y="448" width="6" height="7"/><rect x="735" y="441" width="6" height="8"/></g>
<polygon points="776,368 768,368 768,364 761,371 768,378 768,374 776,374" fill="#fff" stroke="#1d3460" stroke-width="1"/>
<polygon points="760,461 768,461 768,457 776,464 768,471 768,467 760,467" fill="#fff" stroke="#1d3460" stroke-width="1"/>

<!-- Backbone encoder -->
<polygon points="224.6,319.7 377,369.6 377,464.4 224.6,515" fill="url(#bb)" stroke="#1a2b4c" stroke-width="1.3"/>
<g font-family="Liberation Sans Narrow,Liberation Sans,sans-serif" font-weight="bold" font-size="22" text-anchor="middle">
<text x="303.7" y="409.5" textLength="94" lengthAdjust="spacingAndGlyphs">Backbone</text>
<text x="300.5" y="436" textLength="73" lengthAdjust="spacingAndGlyphs">Encoder</text>
</g>
<!-- F* -->
<rect x="415.8" y="328" width="88" height="172" fill="none" stroke="#1d3460" stroke-width="1" stroke-dasharray="3,1.8"/>
<g id="pyr" fill="#f8c3df" stroke="#4a4a6a" stroke-width="0.6">
<polygon points="426,371.5 476,371.5 493,352 443,352"/><rect x="426" y="362" width="50" height="9.5"/><polygon points="476,362 486,350 486,356 476,371.5" fill="#d89ab8"/>
<rect x="433" y="354" width="36" height="8"/><rect x="440" y="347" width="24" height="7"/><rect x="446" y="339" width="14" height="8"/>
<polygon points="469,354 476,346 476,352 469,362" fill="#d89ab8"/><polygon points="464,347 469,341 469,346 464,354" fill="#d89ab8"/>
</g>
<use href="#pyr" y="62.5"/>
<use href="#pyr" y="120.5"/>
<g stroke="#000" stroke-width="2" fill="none">
<path d="M377 417.3H396.7M396.7 344V476.4"/>
<line x1="396.7" y1="344" x2="414" y2="344" marker-end="url(#ah)"/>
<line x1="396.7" y1="417.3" x2="414" y2="417.3" marker-end="url(#ah)"/>
<line x1="396.7" y1="476.4" x2="414" y2="476.4" marker-end="url(#ah)"/>
<path d="M504 344H524.7V476.4H504M524.7 416H542" />
<line x1="524.7" y1="416" x2="542.5" y2="416" marker-end="url(#ah)"/>
<line x1="200" y1="416.6" x2="226" y2="416.6" stroke-width="3.5" marker-end="url(#ah)"/>
</g>

<!-- Left film -->
<rect x="28" y="139" width="172" height="295" rx="8" fill="url(#film)" stroke="#1a2b4c" stroke-width="1.4"/>
<use href="#photoS" x="46" y="148"/><use href="#photoS" x="46" y="244.5"/><use href="#photoS" x="46" y="340"/>
<use href="#hl" x="31.5" y="142"/><use href="#hl" x="183.5" y="142"/>
<text x="106" y="460" font-family="Liberation Sans Narrow,Liberation Sans,sans-serif" font-weight="bold" font-size="25" text-anchor="middle" textLength="211" lengthAdjust="spacingAndGlyphs">Smoky Video Frames</text>
<!-- Right film -->
<rect x="1371.5" y="139.5" width="173.5" height="294.5" rx="8" fill="url(#film)" stroke="#1a2b4c" stroke-width="1.4"/>
<use href="#photoC" x="1391" y="149.6"/><use href="#photoC" x="1391" y="242.5"/><use href="#photoC" x="1391" y="336"/>
<use href="#hl" x="1379" y="142"/><use href="#hl" x="1528.5" y="142"/>
<text x="1463" y="460" font-family="Liberation Sans Narrow,Liberation Sans,sans-serif" font-weight="bold" font-size="25" text-anchor="middle" textLength="198" lengthAdjust="spacingAndGlyphs">Clean Video Frames</text>
</svg>
</body></html>
